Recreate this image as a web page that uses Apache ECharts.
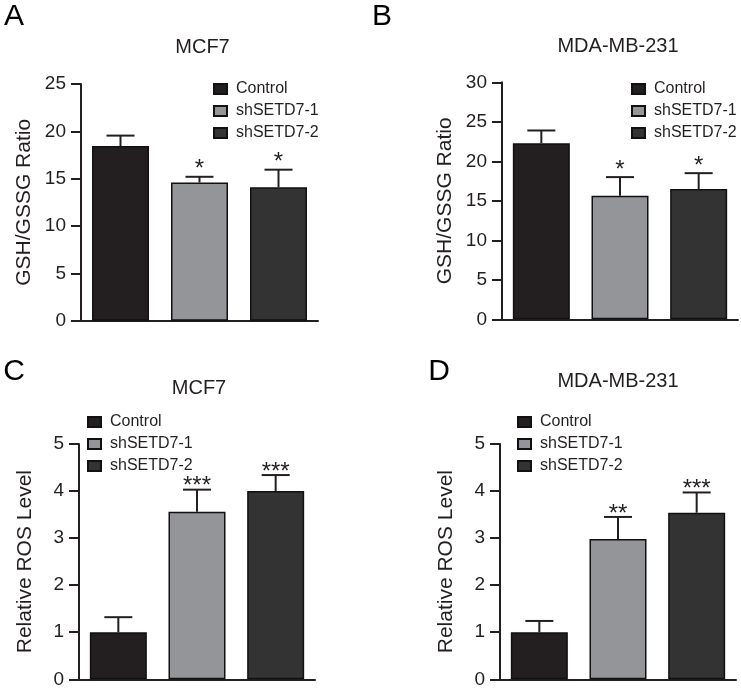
<!DOCTYPE html>
<html>
<head>
<meta charset="utf-8">
<script src="https://cdn.jsdelivr.net/npm/echarts@6/dist/echarts.min.js"></script>
<style>
html,body{margin:0;padding:0;background:#fff;}
#chart{width:741px;height:694px;}
</style>
</head>
<body>
<div id="chart"></div>
<script>
// ---- data ----
const categories = ['Control', 'shSETD7-1', 'shSETD7-2'];
const gshMCF7 = [18.45, 14.6, 14.1];
const gshMCF7Err = [1.1, 0.6, 1.85];
const gshMDA = [22.3, 15.65, 16.5];
const gshMDAErr = [1.6, 2.35, 2.0];
const rosMCF7 = [1.0, 3.56, 4.0];
const rosMCF7Err = [0.32, 0.47, 0.34];
const rosMDA = [1.0, 2.98, 3.54];
const rosMDAErr = [0.24, 0.47, 0.43];
const gshStars = ['', '*', '*'];
const rosMCF7Stars = ['', '***', '***'];
const rosMDAStars = ['', '**', '***'];
const gshTicksMCF7 = {min: 0, max: 25, interval: 5};
const gshTicksMDA = {min: 0, max: 30, interval: 5};
const rosTicks = {min: 0, max: 5, interval: 1};
const panelTitles = ['MCF7', 'MDA-MB-231', 'MCF7', 'MDA-MB-231'];
const panelLetters = ['A', 'B', 'C', 'D'];
const yNames = ['GSH/GSSG Ratio', 'GSH/GSSG Ratio', 'Relative ROS Level', 'Relative ROS Level'];

// ---- styling ----
const FONT = 'Liberation Sans, Arial, Helvetica, sans-serif';
const INK = '#231f20';
const barColors = ['#231f20', '#939598', '#333333'];

const panels = [
  {vals: gshMCF7, err: gshMCF7Err, stars: gshStars, ticks: gshTicksMCF7, nameGap: 46,
   grid: {left: 81, top: 84, width: 237, height: 236.7},
   legend: {left: 213, top: 80}, title: [202.5, 47], letter: [14, 17]},
  {vals: gshMDA, err: gshMDAErr, stars: gshStars, ticks: gshTicksMDA, nameGap: 46,
   grid: {left: 502, top: 82.3, width: 236, height: 237},
   legend: {left: 631, top: 80}, title: [618, 46], letter: [382, 17]},
  {vals: rosMCF7, err: rosMCF7Err, stars: rosMCF7Stars, ticks: rosTicks, nameGap: 43,
   grid: {left: 79, top: 444, width: 236, height: 235.3},
   legend: {left: 87, top: 413}, title: [199, 388], letter: [14, 372]},
  {vals: rosMDA, err: rosMDAErr, stars: rosMDAStars, ticks: rosTicks, nameGap: 43,
   grid: {left: 500, top: 444, width: 236, height: 235.3},
   legend: {left: 517, top: 413}, title: [618, 381], letter: [439, 372]}
];

const option = {
  backgroundColor: '#fff',
  animation: false,
  grid: [], xAxis: [], yAxis: [], legend: [], series: [], graphic: []
};

panels.forEach((p, i) => {
  option.grid.push(Object.assign({containLabel: false}, p.grid));
  option.xAxis.push({
    type: 'category', gridIndex: i, data: categories,
    axisLine: {lineStyle: {color: INK, width: 2}},
    axisTick: {alignWithLabel: true, length: 10, lineStyle: {color: INK, width: 2}},
    axisLabel: {show: false},
    splitLine: {show: false}
  });
  option.yAxis.push({
    type: 'value', gridIndex: i,
    min: p.ticks.min, max: p.ticks.max, interval: p.ticks.interval,
    name: yNames[i], nameLocation: 'middle', nameGap: p.nameGap,
    nameTextStyle: {fontFamily: FONT, fontSize: 21, color: INK},
    axisLine: {show: true, lineStyle: {color: INK, width: 2}},
    axisTick: {show: true, length: 10, lineStyle: {color: INK, width: 2}},
    axisLabel: {fontFamily: FONT, fontSize: 19, color: INK, margin: 15},
    splitLine: {show: false}
  });
  option.legend.push({
    orient: 'vertical', left: p.legend.left, top: p.legend.top, padding: 0,
    itemWidth: 13, itemHeight: 10, itemGap: 4, icon: 'rect',
    data: categories,
    textStyle: {fontFamily: FONT, fontSize: 16, color: INK, lineHeight: 18, padding: [0, 0, 0, 4]},
    selectedMode: false
  });
  categories.forEach((c, k) => {
    const d = categories.map((_, j) => j === k ? p.vals[j] : '-');
    option.series.push({
      type: 'bar', name: c, xAxisIndex: i, yAxisIndex: i,
      data: d, barWidth: 57, barGap: '-100%',
      itemStyle: {color: barColors[k], borderColor: '#111', borderWidth: 1.5},
      z: 2
    });
  });
  option.series.push({
    type: 'custom', name: 'err' + i, xAxisIndex: i, yAxisIndex: i, z: 5,
    data: p.vals.map((v, j) => [j, v, v + p.err[j]]),
    encode: {x: 0, y: [1, 2]},
    renderItem: function (params, api) {
      const base = api.coord([api.value(0), api.value(1)]);
      const top = api.coord([api.value(0), api.value(2)]);
      const star = p.stars[params.dataIndex];
      const cap = 14;
      const children = [
        {type: 'line', shape: {x1: base[0], y1: base[1], x2: top[0], y2: top[1]},
         style: {stroke: INK, lineWidth: 2}},
        {type: 'line', shape: {x1: top[0] - cap, y1: top[1], x2: top[0] + cap, y2: top[1]},
         style: {stroke: INK, lineWidth: 2}}
      ];
      if (star) {
        const off = star.length === 1 ? 7 : 3;
        children.push({type: 'text', x: top[0], y: top[1] - off,
          style: {text: star, font: '24px ' + FONT, fill: INK, align: 'center', verticalAlign: 'middle'}});
      }
      return {type: 'group', children: children};
    }
  });
  option.graphic.push({
    type: 'text', x: p.title[0], y: p.title[1],
    style: {text: panelTitles[i], font: '20px ' + FONT, fill: INK, align: 'center', verticalAlign: 'middle'}
  });
  option.graphic.push({
    type: 'text', x: p.letter[0], y: p.letter[1],
    style: {text: panelLetters[i], font: '30px ' + FONT, fill: '#000', align: 'center', verticalAlign: 'middle'}
  });
});

const chart = echarts.init(document.getElementById('chart'));
chart.setOption(option);
</script>
</body>
</html>
